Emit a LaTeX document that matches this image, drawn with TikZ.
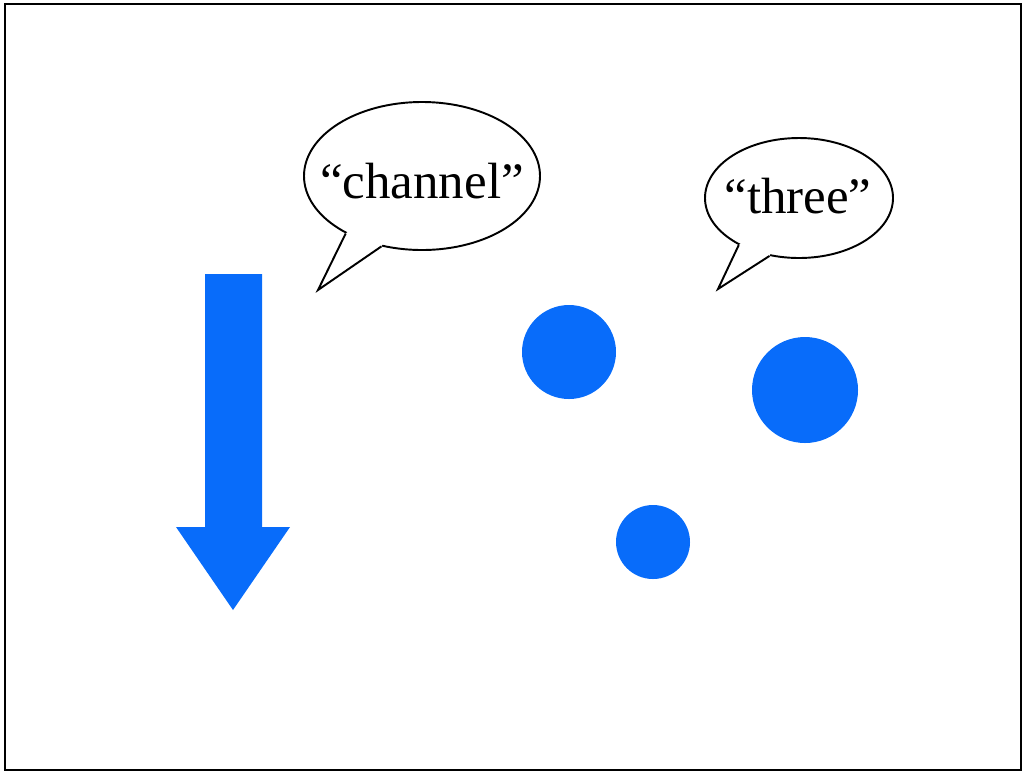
\documentclass[tikz,border=0pt]{standalone}
\usepackage{fontspec}
\setmainfont{Liberation Serif}
\usepackage{tikz}
\usetikzlibrary{positioning, calc, shapes.geometric}
\definecolor{dotblue}{RGB}{8,108,250}
\tikzset{
    bubble/.style={draw=black, line width=1.1pt, fill=white, ellipse, inner sep=0pt},
    said/.style={anchor=base, inner sep=0pt, font=\fontsize{29}{34}\selectfont},
    dot/.style={fill=dotblue, draw=none}
}
\begin{document}
\begin{tikzpicture}[x=0.02cm, y=-0.02cm]
    \useasboundingbox (0,0) rectangle (1023,772);

    % border
    \draw[black, line width=1pt] (5,4) rectangle (1021,770);

    % arrow
    \coordinate (a1) at (205,274);
    \coordinate (a2) at (262,274);
    \coordinate (a3) at (262,527);
    \coordinate (a4) at (290,527);
    \coordinate (a5) at (233,610);
    \coordinate (a6) at (176,527);
    \coordinate (a7) at (205,527);
    \fill[dotblue] (a1) -- (a2) -- (a3) -- (a4) -- (a5) -- (a6) -- (a7) -- cycle;

    % dots
    \foreach \name/\x/\y/\r in {
        d1/569/352/47,
        d2/805/390/53,
        d3/653/542/37}{
        \fill[dot] (\x,\y) circle (\r*0.02cm);
    }

    % bubbles
    \foreach \name/\x/\y/\w/\h/\tx/\ty/\ta/\tb in {
        chan/422/176/236/148/318/290/217/240,
        three/799/198/188/120/718/289/218/243}{
        \node[bubble, minimum width=\w*0.02cm, minimum height=\h*0.02cm] (\name bub) at (\x,\y) {};
        \coordinate (\name tip) at (\tx,\ty);
        \fill[white]
            ($(\name bub.\ta)!0.08!(\name bub.center)$) -- (\name bub.\ta) -- (\name tip)
            -- (\name bub.\tb) -- ($(\name bub.\tb)!0.08!(\name bub.center)$) -- cycle;
        \draw[black, line width=1.1pt, line join=miter]
            (\name bub.\ta) -- (\name tip) -- (\name bub.\tb);
    }

    \node[said] (chantxt) at (422,198) {“channel”};
    \node[said] (threetxt) at (798,213) {“three”};
\end{tikzpicture}
\end{document}
